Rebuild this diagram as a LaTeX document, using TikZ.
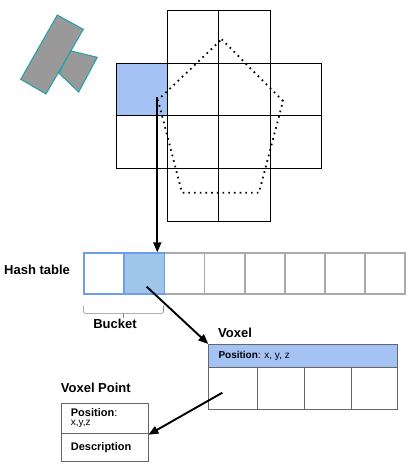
\documentclass[tikz,border=0pt]{standalone}
\usepackage{fontspec}
\setmainfont{Liberation Sans}
\usetikzlibrary{arrows.meta}
\definecolor{cellblue}{HTML}{A4C2F4}
\definecolor{hashblue}{HTML}{9FC5E8}
\definecolor{hashedge}{HTML}{6D9EEB}
\definecolor{hashgray}{HTML}{AAAAAA}
\definecolor{tableedge}{HTML}{666666}
\definecolor{shapefill}{HTML}{999999}
\definecolor{shapeedge}{HTML}{1FA2AE}
\begin{document}
\begin{tikzpicture}[x=1pt,y=-1pt,
  gridline/.style={draw=black, line width=1pt},
  hashcell/.style={draw=hashgray, line width=1.8pt, minimum width=40.1pt, minimum height=41pt, inner sep=0pt, anchor=north west},
  bluecell/.style={hashcell, draw=hashedge},
  tabcell/.style={draw=tableedge, line width=0.9pt, inner sep=0pt, anchor=north west},
  title/.style={font=\fontsize{13}{15}\selectfont\bfseries, inner sep=0pt, anchor=west},
  small/.style={font=\fontsize{11}{13}\selectfont, inner sep=0pt, anchor=west},
  arr/.style={-{Triangle[length=10pt,width=8pt]}, line width=1.9pt, black},
  shape2d/.style={fill=shapefill, draw=shapeedge, line width=1pt}]
\useasboundingbox (0,0) rectangle (410,467);

% top-left shapes
\draw[shape2d] (70,50.7) -- (97.3,57.3) -- (78.7,92) -- (59,73.3) -- cycle;
\draw[shape2d] (57.3,15) -- (83.3,29.3) -- (46,94) -- (20.7,79.3) -- cycle;

% grid
\node[fill=cellblue, inner sep=0pt, minimum width=50.6pt, minimum height=52pt, anchor=north west] (gcell) at (116.7,63.3) {};
\draw[gridline] (167.3,10.3) rectangle (270.7,221.7);
\draw[gridline] (116.7,63.3) rectangle (321.7,168.3);
\draw[gridline] (218.3,10.3) -- (218.3,221.7);
\draw[gridline] (167.3,10.3) -- (167.3,221.7);
\draw[gridline] (270.7,10.3) -- (270.7,221.7);
\draw[gridline] (116.7,115.3) -- (321.7,115.3);

% pentagon (dotted)
\draw[line width=1.8pt, dash pattern=on 1.6pt off 4.1pt] (221.7,39.3) -- (283,101) -- (259,192.7) -- (182,192.7) -- (158,100) -- cycle;

% hash table
\node[hashcell] (h3) at (163.5,252.3) {};
\node[hashcell] (h4) at (203.6,252.3) {};
\node[hashcell] (h5) at (243.7,252.3) {};
\node[hashcell] (h6) at (283.8,252.3) {};
\node[hashcell] (h7) at (323.9,252.3) {};
\node[hashcell] (h8) at (364.0,252.3) {};
\node[bluecell] (h1) at (83.3,252.3) {};
\node[bluecell, fill=hashblue] (h2) at (123.4,252.3) {};
\node[title] (hashlbl) at (4,270) {Hash table};

% bucket bracket
\draw[hashgray!80!black, line width=0.6pt, rounded corners=2pt] (83.3,305.5) -- (83.3,313.3) -- (163.5,313.3) -- (163.5,305.5);
\draw[hashgray!80!black, line width=0.6pt] (123.4,313.3) -- (123.4,317.5);
\node[title, anchor=center] (bucket) at (115,324) {Bucket};

% voxel
\node[title] (voxlbl) at (218,333.3) {Voxel};
\node[tabcell, fill=cellblue, minimum width=189pt, minimum height=23.3pt] (vh) at (208.3,344) {};
\node[small, font=\fontsize{10}{12}\selectfont] (vhtext) at (218.3,356) {\textbf{Position}: x, y, z};
\node[tabcell, minimum width=48.4pt, minimum height=41.7pt] (v1) at (208.3,367.3) {};
\node[tabcell, minimum width=47pt, minimum height=41.7pt] (v2) at (256.7,367.3) {};
\node[tabcell, minimum width=47pt, minimum height=41.7pt] (v3) at (303.7,367.3) {};
\node[tabcell, minimum width=46.6pt, minimum height=41.7pt] (v4) at (350.7,367.3) {};

% voxel point
\node[title] (vplbl) at (60.7,388.3) {Voxel Point};
\node[tabcell, minimum width=87pt, minimum height=58pt] (vp) at (60.5,403) {};
\draw[tableedge, line width=0.9pt] (60.5,433.5) -- (147.5,433.5);
\node[small] (vpp) at (70.7,412.3) {\textbf{Position}:};
\node[small, font=\fontsize{10}{12}\selectfont] (vpxyz) at (70.7,424) {x,y,z};
\node[small, font=\bfseries\fontsize{11}{13}\selectfont] (vpd) at (70.7,447.3) {Description};

% arrows
\coordinate (gstart) at (157.3,97.3);
\coordinate (hstart) at (146.7,286.7);
\coordinate (vstart) at (222.3,392.7);
\draw[arr] (gstart) -- (gstart |- h2.north);
\draw[arr] (hstart) -- (vh.north west);
\draw[arr] (vstart) -- ([yshift=-2.3pt]vp.east);
\end{tikzpicture}
\end{document}
